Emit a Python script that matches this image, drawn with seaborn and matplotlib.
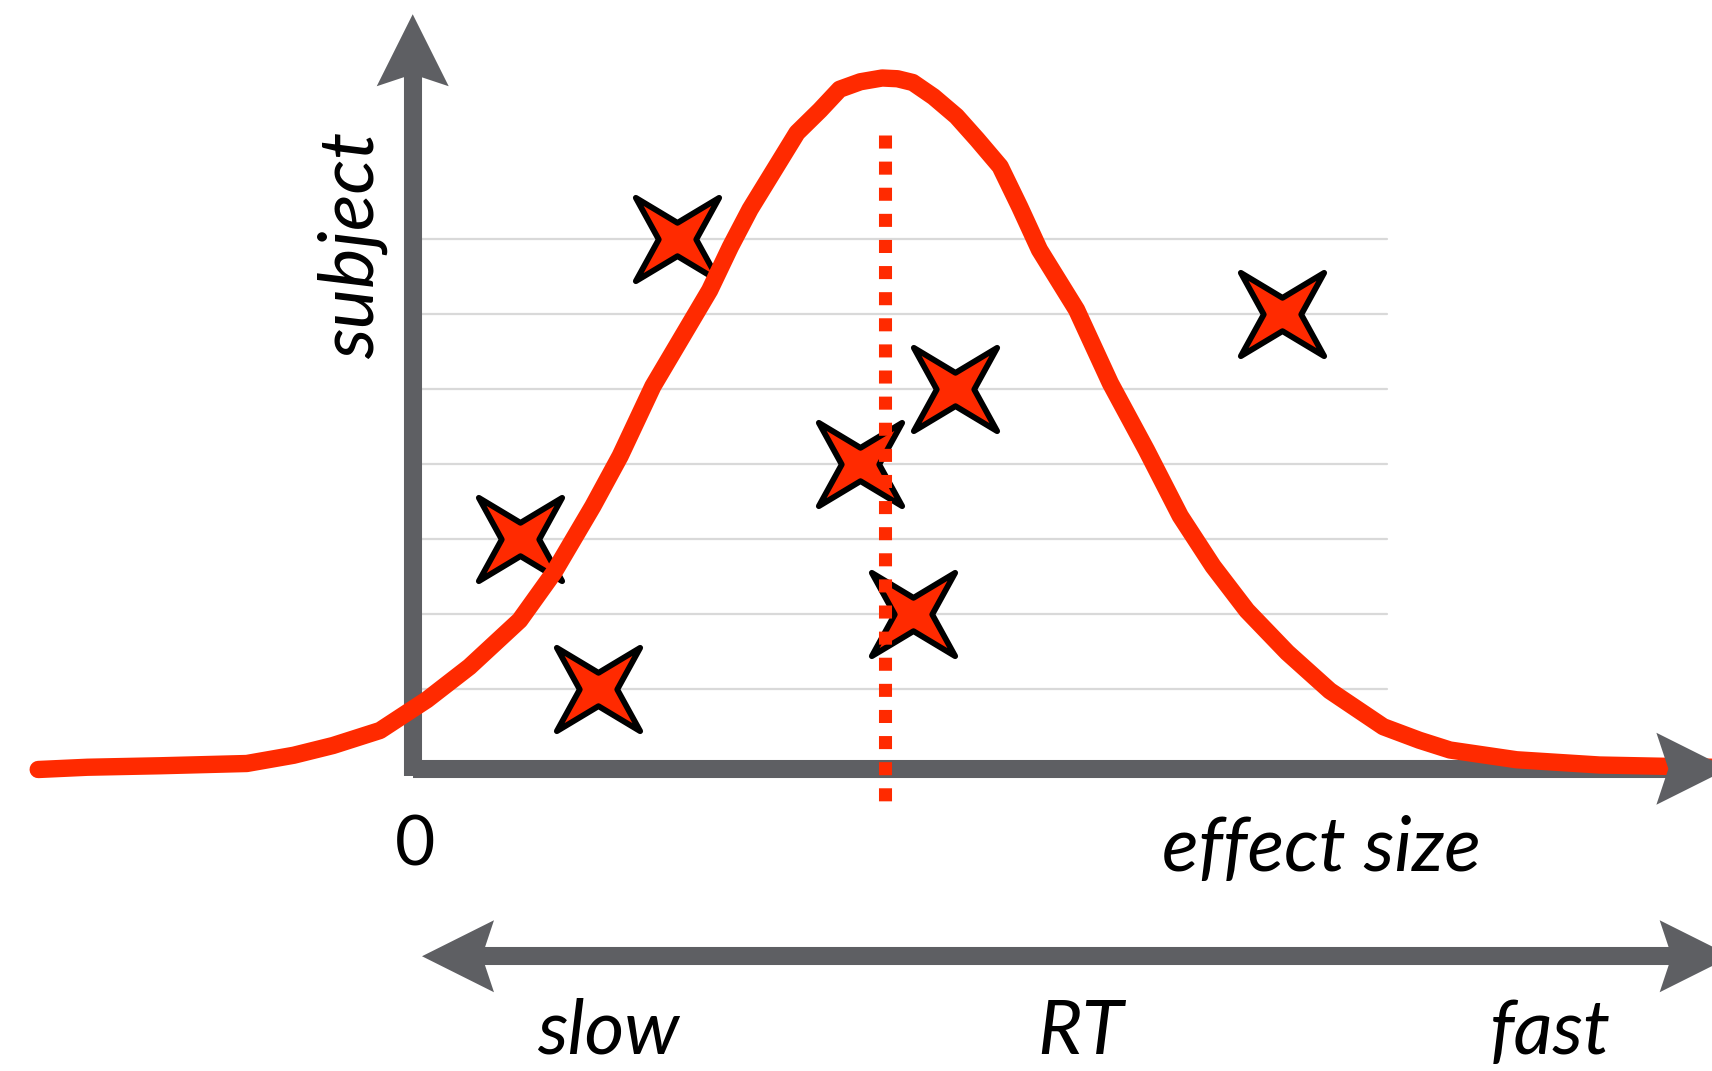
import numpy as np
import matplotlib
matplotlib.use("Agg")
import matplotlib.pyplot as plt
import matplotlib.transforms as mtransforms
from matplotlib.patches import Polygon
from matplotlib.path import Path
import seaborn as sns

# normal-looking curve (effect size, height in subject units)
curve_x = [-3.43, -2.98, -2.31, -1.52, -1.09, -0.73, -0.30, 0.13, 0.52, 0.98,
           1.29, 1.65, 1.90, 2.20, 2.72, 2.91, 3.09, 3.52, 3.73, 3.91,
           4.10, 4.30, 4.44, 4.58, 4.77, 4.98, 5.17, 5.38, 5.56, 5.74,
           6.08, 6.39, 6.72, 7.03, 7.33, 7.64, 8.01, 8.40, 8.89,
           9.22, 9.50, 10.11, 10.87, 11.90]
curve_y = [-0.07, -0.04, -0.02, 0.01, 0.12, 0.25, 0.45, 0.86, 1.30, 1.92,
           2.55, 3.44, 4.11, 5.04, 6.32, 6.90, 7.40, 8.42, 8.72, 9.00,
           9.10, 9.15, 9.14, 9.09, 8.90, 8.64, 8.33, 7.97, 7.43, 6.86,
           6.06, 5.08, 4.19, 3.31, 2.64, 2.05, 1.49, 0.98, 0.50,
           0.32, 0.19, 0.06, -0.01, -0.04]

# one effect per subject
subjects = [1, 2, 3, 4, 5, 6, 7]
effects = [1.70, 4.58, 0.98, 4.10, 4.97, 7.96, 2.42]

mean_effect = 4.33

RED = "#FF2A00"
GRAY = "#5E5F63"
GRID = "#D9D9D9"

sns.set_theme(style="white")
plt.rcParams["font.family"] = ["Lato", "DejaVu Sans"]
plt.rcParams["text.color"] = "black"

fig = plt.figure(figsize=(17.12, 10.71), dpi=100)
ax = fig.add_axes([0, 0, 1, 1])
ax.set_xlim(-3.78, 11.90)
ax.set_ylim(-4.09, 10.19)
ax.axis("off")

# light subject lines
for s in subjects:
    ax.plot([0.07, 8.92], [s, s], color=GRID, lw=1.6, zorder=1)

# axes with arrow heads
def head(x, y, angle):
    v = np.array([[0, 0], [-0.72, 0.36], [-0.60, 0], [-0.72, -0.36]])
    a = np.deg2rad(angle)
    rot = np.array([[np.cos(a), -np.sin(a)], [np.sin(a), np.cos(a)]])
    v = v @ rot.T
    trans = fig.dpi_scale_trans + mtransforms.ScaledTranslation(x, y, ax.transData)
    ax.add_patch(Polygon(v, closed=True, transform=trans, color=GRAY, lw=0, zorder=6))

ax.plot([0, 0], [-0.15, 9.3], color=GRAY, lw=13, solid_capstyle="butt", zorder=2)
head(0, 10.0, 90)
ax.plot([0, 11.6], [-0.06, -0.06], color=GRAY, lw=13, solid_capstyle="butt", zorder=2)
head(12.05, -0.06, 0)

ax.plot([0.6, 11.6], [-2.56, -2.56], color=GRAY, lw=13, solid_capstyle="butt", zorder=2)
head(0.085, -2.56, 180)
head(12.08, -2.56, 0)

# star markers for each subject
star = Path([(-1, 1), (0, 0.4), (1, 1), (0.45, 0), (1, -1), (0, -0.4),
             (-1, -1), (-0.45, 0), (-1, 1)],
            [Path.MOVETO] + [Path.LINETO] * 7 + [Path.CLOSEPOLY])
sns.scatterplot(x=effects, y=subjects, marker=star, s=60 ** 2, color=RED,
                edgecolor="black", linewidth=4.2, zorder=3, ax=ax)

# the distribution
sns.lineplot(x=curve_x, y=curve_y, sort=False, color=RED, lw=12.5,
             solid_joinstyle="round", zorder=5, ax=ax)

# mean effect
ax.plot([mean_effect, mean_effect], [8.39, -0.60], color=RED, lw=9.4,
        linestyle=(0, (1, 1)), dash_capstyle="butt", zorder=5)

# labels
lab = dict(fontsize=55, style="italic", ha="center", va="center", color="black")
ax.text(0.02, -1.09, "0", fontsize=50, ha="center", va="center", color="black")
ax.text(8.32, -1.14, "effect size", **lab)
ax.text(-0.55, 6.92, "subject", rotation=90, **lab)
ax.text(1.79, -3.57, "slow", **lab)
ax.text(6.12, -3.57, "RT", **lab)
ax.text(10.42, -3.57, "fast", **lab)

fig.savefig("out.png", dpi=100)
